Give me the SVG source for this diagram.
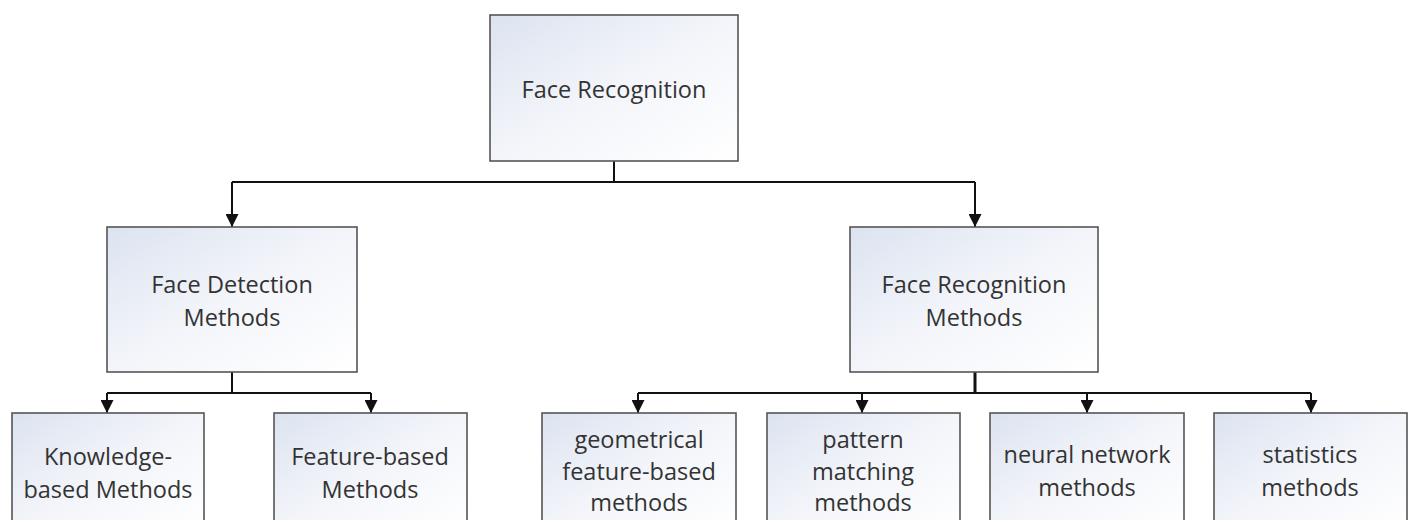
<svg xmlns="http://www.w3.org/2000/svg" width="1413" height="520" viewBox="0 0 1413 520">
<style>
.box{fill:url(#g);stroke:#555;stroke-width:1.6}
.t{font-family:"Open Sans","Liberation Sans",sans-serif;font-size:23.5px;fill:#333;text-anchor:middle}
.c{fill:none;stroke:#111;stroke-width:2}
</style>
<defs>
<linearGradient id="g" x1="0" y1="0" x2="1" y2="1">
<stop offset="0" stop-color="#dce3f0"/>
<stop offset="0.5" stop-color="#f3f5fa"/>
<stop offset="1" stop-color="#ffffff"/>
</linearGradient>
<marker id="a" markerUnits="userSpaceOnUse" markerWidth="13" markerHeight="13" refX="12" refY="6" orient="auto" viewBox="0 0 12 12">
<path d="M0,0 L12,6 L0,12 Z" fill="#111"/>
</marker>
</defs>
<rect width="1413" height="520" fill="#fff"/>
<g id="connectors">
<path class="c" d="M614,161 V182"/>
<path class="c" d="M232,182 H975"/>
<path class="c" d="M232,182 V227" marker-end="url(#a)"/>
<path class="c" d="M975,182 V227" marker-end="url(#a)"/>
<path class="c" d="M232,372 V393"/>
<path class="c" d="M107,393 H371"/>
<path class="c" d="M107,393 V413" marker-end="url(#a)"/>
<path class="c" d="M371,393 V413" marker-end="url(#a)"/>
<path class="c" d="M975,372 V393" style="stroke-width:3"/>
<path class="c" d="M638,393 H1311"/>
<path class="c" d="M638,393 V413" marker-end="url(#a)"/>
<path class="c" d="M862,393 V413" marker-end="url(#a)"/>
<path class="c" d="M1087,393 V413" marker-end="url(#a)"/>
<path class="c" d="M1311,393 V413" marker-end="url(#a)"/>
</g>
<g id="face-recognition">
<rect class="box" x="490" y="15" width="248" height="146"/>
<text class="t" x="614" y="98">Face Recognition</text>
</g>
<g id="face-detection-methods">
<rect class="box" x="107" y="227" width="250" height="145"/>
<text class="t" x="232" y="293">Face Detection</text>
<text class="t" x="232" y="326">Methods</text>
</g>
<g id="face-recognition-methods">
<rect class="box" x="850" y="227" width="248" height="145"/>
<text class="t" x="974" y="293">Face Recognition</text>
<text class="t" x="974" y="326">Methods</text>
</g>
<g id="knowledge-based">
<rect class="box" x="12" y="413" width="192" height="120"/>
<text class="t" x="108" y="465">Knowledge-</text>
<text class="t" x="108" y="498">based Methods</text>
</g>
<g id="feature-based">
<rect class="box" x="274" y="413" width="193" height="120"/>
<text class="t" x="370" y="465">Feature-based</text>
<text class="t" x="370" y="498">Methods</text>
</g>
<g id="geometrical">
<rect class="box" x="542" y="413" width="194" height="120"/>
<text class="t" x="639" y="448">geometrical</text>
<text class="t" x="639" y="480">feature-based</text>
<text class="t" x="639" y="511">methods</text>
</g>
<g id="pattern-matching">
<rect class="box" x="767" y="413" width="193" height="120"/>
<text class="t" x="863" y="448">pattern</text>
<text class="t" x="863" y="480">matching</text>
<text class="t" x="863" y="511">methods</text>
</g>
<g id="neural-network">
<rect class="box" x="990" y="413" width="194" height="120"/>
<text class="t" x="1087" y="463">neural network</text>
<text class="t" x="1087" y="496">methods</text>
</g>
<g id="statistics">
<rect class="box" x="1214" y="413" width="193" height="120"/>
<text class="t" x="1310" y="463">statistics</text>
<text class="t" x="1310" y="496">methods</text>
</g>
</svg>
